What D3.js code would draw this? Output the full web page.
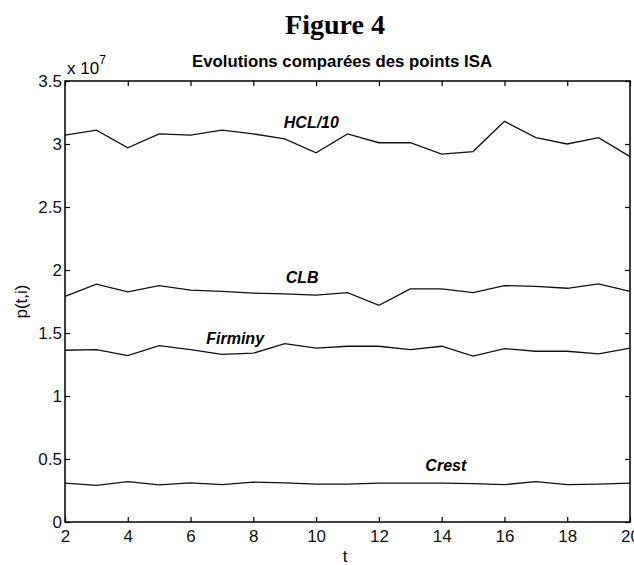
<!DOCTYPE html>
<html>
<head>
<meta charset="utf-8">
<script src="https://cdn.jsdelivr.net/npm/d3@7"></script>
<style>
  body { margin: 0; background: #fff; }
  svg { display: block; }
  .tick line { stroke: #000; stroke-width: 1.2; }
  .tick text { font-family: "Liberation Sans", Arial, sans-serif; font-size: 17px; fill: #111; }
  .domain { display: none; }
</style>
</head>
<body>
<div id="chart"></div>
<script>
// t values and series (units of 10^7)
const tValues = [2, 3, 4, 5, 6, 7, 8, 9, 10, 11, 12, 13, 14, 15, 16, 17, 18, 19, 20];
const hcl10 = [3.07, 3.11, 2.97, 3.08, 3.07, 3.11, 3.08, 3.04, 2.93, 3.08, 3.01, 3.01, 2.92, 2.94, 3.18, 3.05, 3.00, 3.05, 2.90];
const clb = [1.79, 1.887, 1.826, 1.876, 1.84, 1.83, 1.816, 1.81, 1.80, 1.82, 1.72, 1.85, 1.85, 1.82, 1.876, 1.87, 1.855, 1.89, 1.83];
const firminy = [1.363, 1.368, 1.32, 1.40, 1.368, 1.33, 1.34, 1.415, 1.38, 1.395, 1.395, 1.368, 1.395, 1.316, 1.376, 1.355, 1.355, 1.334, 1.38];
const crest = [0.308, 0.29, 0.32, 0.295, 0.31, 0.297, 0.316, 0.31, 0.30, 0.30, 0.308, 0.308, 0.308, 0.305, 0.297, 0.32, 0.297, 0.30, 0.308];

const xTicks = [2, 4, 6, 8, 10, 12, 14, 16, 18, 20];
const yTicks = [0, 0.5, 1, 1.5, 2, 2.5, 3, 3.5];
const yTickLabels = ["0", "0.5", "1", "1.5", "2", "2.5", "3", "3.5"];

// series labels: name, t where text starts, value at baseline
const seriesNames = ["HCL/10", "CLB", "Firminy", "Crest"];
const labelT = [8.97, 9.03, 6.5, 13.48];
const labelV = [3.13, 1.90, 1.413, 0.408];

let width = 634;
let height = 565;
let margin = {top: 81, right: 4, bottom: 43, left: 65};
let w = width - margin.left - margin.right;
let h = height - margin.top - margin.bottom;

let svg = d3.select("#chart").append("svg")
  .attr("width", width)
  .attr("height", height);

svg.append("text")
  .attr("x", 335)
  .attr("y", 34)
  .attr("text-anchor", "middle")
  .style("font-family", "'Liberation Serif', 'Times New Roman', serif")
  .style("font-weight", "bold")
  .style("font-size", "28px")
  .text("Figure 4");

svg.append("text")
  .attr("x", 342)
  .attr("y", 67)
  .attr("text-anchor", "middle")
  .attr("textLength", 300)
  .attr("lengthAdjust", "spacingAndGlyphs")
  .style("font-family", "'Liberation Sans Narrow', 'Arial Narrow', 'Liberation Sans', sans-serif")
  .style("font-weight", "bold")
  .style("font-size", "17px")
  .text("Evolutions comparées des points ISA");

let g = svg.append("g")
  .attr("transform", `translate(${margin.left},${margin.top})`);

let x = d3.scaleLinear().domain([2, 20]).range([0, w]);
let y = d3.scaleLinear().domain([0, 3.5]).range([h, 0]);

g.append("g")
  .attr("transform", `translate(0,${h})`)
  .call(d3.axisBottom(x).tickValues(xTicks).tickSizeInner(-5).tickSizeOuter(0).tickPadding(8));
g.append("g")
  .call(d3.axisTop(x).tickValues(xTicks).tickSizeInner(-5).tickSizeOuter(0).tickFormat(""));
g.append("g")
  .call(d3.axisLeft(y).tickValues(yTicks).tickSizeInner(-5).tickSizeOuter(0).tickPadding(3)
    .tickFormat((d, i) => yTickLabels[i]));
g.append("g")
  .attr("transform", `translate(${w},0)`)
  .call(d3.axisRight(y).tickValues(yTicks).tickSizeInner(-5).tickSizeOuter(0).tickFormat(""));

g.append("rect")
  .attr("width", w)
  .attr("height", h)
  .attr("fill", "none")
  .attr("stroke", "#000")
  .attr("stroke-width", 1.5);

let line = d3.line()
  .x((d, i) => x(tValues[i]))
  .y((d) => y(d));

g.selectAll("path.series")
  .data([hcl10, clb, firminy, crest])
  .enter()
  .append("path")
  .classed("series", true)
  .attr("d", line)
  .attr("fill", "none")
  .attr("stroke", "#111")
  .attr("stroke-width", 1.3);

g.selectAll("text.series-label")
  .data(seriesNames)
  .enter()
  .append("text")
  .classed("series-label", true)
  .attr("x", (d, i) => x(labelT[i]))
  .attr("y", (d, i) => y(labelV[i]))
  .style("font-family", "'Liberation Sans', Arial, sans-serif")
  .style("font-weight", "bold")
  .style("font-style", "italic")
  .style("font-size", "16px")
  .text((d) => d);

// exponent
let expo = svg.append("text")
  .attr("x", 67)
  .attr("y", 74)
  .style("font-family", "'Liberation Sans', Arial, sans-serif")
  .style("font-size", "17px");
expo.append("tspan").text("x 10");
expo.append("tspan").attr("dy", -10).style("font-size", "12px").text("7");

svg.append("text")
  .attr("x", 345)
  .attr("y", 562)
  .attr("text-anchor", "middle")
  .style("font-family", "'Liberation Sans', Arial, sans-serif")
  .style("font-size", "17px")
  .text("t");

svg.append("text")
  .attr("transform", `translate(27,${margin.top + h / 2}) rotate(-90)`)
  .attr("text-anchor", "middle")
  .style("font-family", "'Liberation Sans', Arial, sans-serif")
  .style("font-size", "17px")
  .text("p(t,i)");
</script>
</body>
</html>
